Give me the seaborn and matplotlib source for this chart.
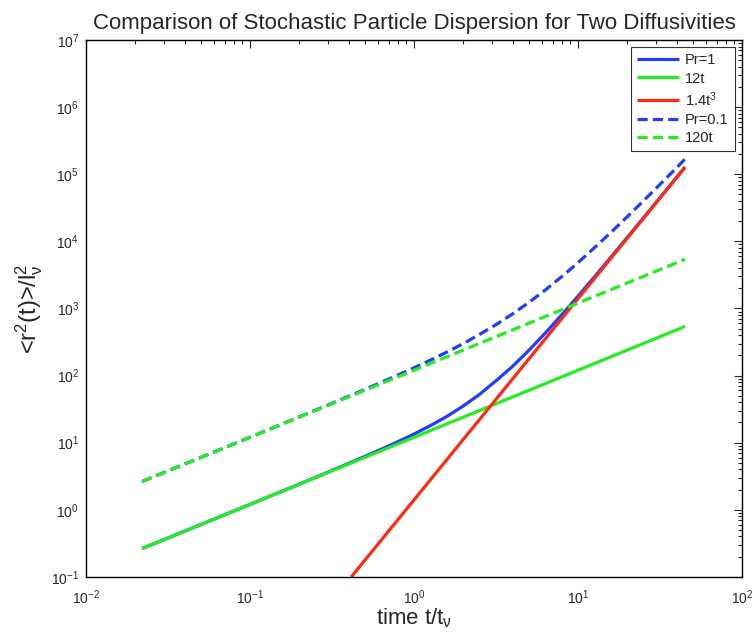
import matplotlib
matplotlib.use("Agg")
import matplotlib.pyplot as plt
import seaborn as sns
import pandas as pd

# ---- data ----
t_line = [0.022, 45]
y_12t = [0.264, 540]
y_120t = [2.64, 5400]
t_cube = [0.415, 45]
y_cube = [0.1, 127000]

t_pr1 = [0.022, 0.05, 0.1, 0.2, 0.3, 0.5, 0.7, 1.0, 1.3, 1.6, 2.0, 2.5,
         3.2, 4.0, 5.0, 6.3, 8.0, 10, 13, 16, 20, 25, 32, 40, 45]
y_pr1 = [0.264, 0.6, 1.2, 2.41, 3.64, 6.2, 8.9, 13.4, 18.7, 24.9, 35.2, 51.9,
         85.5, 137.6, 235, 426, 813, 1520, 3230, 5930, 11440, 22180, 46260,
         90080, 128100]

t_pr01 = [0.022, 0.05, 0.1, 0.2, 0.3, 0.5, 0.7, 1.0, 1.3, 1.6, 2.0, 2.5,
          3.2, 4.0, 5.0, 6.3, 8.0, 10, 13, 16, 20, 25, 32, 40, 45]
y_pr01 = [2.64, 6.0, 12.0, 24.2, 36.5, 61.8, 88.2, 130.4, 176, 226, 300, 407,
          584, 831, 1220, 1870, 3005, 4800, 8620, 13800, 23300, 39800, 72500,
          125200, 169200]

labels = ["Pr=1", "12t", r"1.4t$^3$", "Pr=0.1", "120t"]

sns.set_style("white")
plt.rcParams['font.family'] = ['Liberation Sans', 'DejaVu Sans']
plt.rcParams['mathtext.fontset'] = 'custom'
plt.rcParams['mathtext.rm'] = 'Liberation Sans'
plt.rcParams['mathtext.it'] = 'Liberation Sans'
plt.rcParams['mathtext.default'] = 'regular'

blue = '#1f3cff'
green = '#22ee22'
red = '#ff2a10'
lw = 2.3

fig = plt.figure(figsize=(7.54, 6.36), dpi=100)
ax = fig.add_axes([0.114, 0.093, 0.870, 0.844])

series = [
    (t_pr1, y_pr1, blue, '-', labels[0]),
    (t_line, y_12t, green, '-', labels[1]),
    (t_cube, y_cube, red, '-', labels[2]),
    (t_pr01, y_pr01, blue, '--', labels[3]),
    (t_line, y_120t, green, '--', labels[4]),
]
for x, y, c, ls, lab in series:
    df = pd.DataFrame({"t": x, "r2": y})
    sns.lineplot(data=df, x="t", y="r2", ax=ax, color=c, linewidth=lw,
                 label=lab, estimator=None, sort=False)
    line = ax.lines[-1]
    if ls == '--':
        line.set_dashes((3.2, 1.6))
    line.set_solid_capstyle('butt')

ax.set_xscale('log')
ax.set_yscale('log')
ax.set_xlim(1e-2, 1e2)
ax.set_ylim(1e-1, 1e7)

ax.tick_params(which='both', direction='in', top=True, right=True,
               labelsize=10, width=0.8)
ax.tick_params(which='major', length=6)
ax.tick_params(which='minor', length=3)
ax.tick_params(axis='x', which='both', pad=8)
ax.tick_params(axis='y', which='both', pad=5)
for s in ax.spines.values():
    s.set_linewidth(1.0)
    s.set_color('black')

ax.set_xlabel(r"time t/t$_{\nu}$", fontsize=16, labelpad=0)
ax.set_ylabel(r"<r$^2$(t)>/l$^2_{\nu}$", fontsize=17, labelpad=4)
ax.set_title("Comparison of Stochastic Particle Dispersion for Two Diffusivities",
             fontsize=16, pad=8)

leg = ax.legend(loc='upper right', fontsize=10.5, handlelength=2.9,
                frameon=True, fancybox=False, borderaxespad=0.5,
                labelspacing=0.3, handletextpad=0.4, borderpad=0.4)
leg.get_frame().set_edgecolor('black')
leg.get_frame().set_linewidth(0.8)

fig.savefig("out.png", dpi=100)
